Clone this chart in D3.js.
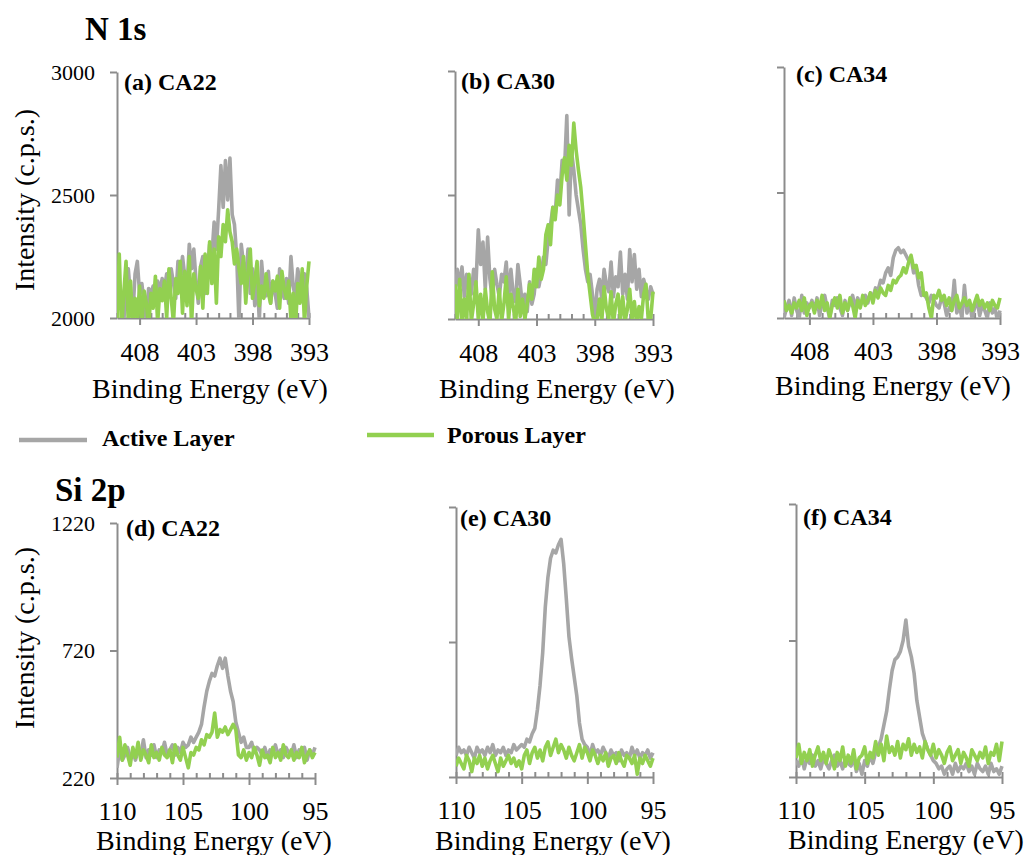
<!DOCTYPE html>
<html>
<head>
<meta charset="utf-8">
<script src="https://cdn.jsdelivr.net/npm/d3@7"></script>
<style>
  html, body { margin: 0; padding: 0; background: #fff; }
  svg { display: block; }
  text { font-family: "Liberation Serif", "Times New Roman", Times, serif; fill: #000; }
</style>
</head>
<body>
<svg id="chart" width="1025" height="855"></svg>
<script>
// ---- Energy grids (eV) ----
const n1sStart = 410, n1sStep = 0.2, n1sCount = 86;   // 410 -> 393 eV
const si2pStart = 110, si2pStep = 0.2, si2pCount = 76; // 110 -> 95 eV

// ---- Tick labels ----
const n1sXTicks = [408, 403, 398, 393];
const si2pXTicks = [110, 105, 100, 95];
const n1sYTicks = [2000, 2500, 3000];
const si2pYTicks = [220, 720, 1220];

// ---- Series names ----
const seriesNames = ["Active Layer", "Porous Layer"];
const panelLabels = ["(a) CA22", "(b) CA30", "(c) CA34", "(d) CA22", "(e) CA30", "(f) CA34"];

// ---- N 1s spectra (c.p.s.) ----
const n1sCA22Active = [
  2180, 2120, 2050, 1980, 2150, 2200, 2090, 2010, 2180, 2230,
  2100, 2140, 2060, 1990, 2120, 2100, 2130, 2080, 2150, 2110,
  2160, 2120, 2180, 2100, 2200, 2140, 2080, 2230, 2150, 2250,
  2170, 2120, 2300, 2200, 2280, 2150, 2060, 2210, 2250, 2100,
  2180, 2300, 2250, 2390, 2280, 2440, 2620, 2450, 2640, 2480,
  2650, 2420, 2380, 2250, 1980, 2300, 2220, 2160, 2280, 2100,
  2200, 2050, 2180, 1990, 2230, 2120, 2090, 2190, 2060, 2150,
  2100, 2040, 2200, 2120, 2080, 2160, 2060, 2250, 2130, 2080,
  2200, 2150, 2090, 2180, 2120, 2000
];
const n1sCA22Porous = [
  2000, 2260, 1950, 2100, 2230, 1980, 2150, 1960, 2080, 2000,
  2130, 1970, 2110, 2060, 1960, 2100, 2040, 2170, 1980, 2120,
  2070, 2150, 2000, 2200, 2080, 1980, 2160, 2100, 2230, 2020,
  2190, 2050, 2250, 1970, 2180, 2120, 2080, 2210, 2040, 2260,
  2100, 2310, 2140, 2280, 2060, 2330, 2250, 2380, 2310, 2440,
  2350, 2310, 2220, 2280, 2200, 2140, 2250, 2060, 2190, 2280,
  2080, 2150, 2230, 2050, 2130, 2080, 2180, 2100, 2060, 2150,
  2110, 2170, 2040, 2190, 2120, 2080, 2150, 1990, 2100, 1960,
  2140, 2060, 2200, 1980, 2130, 2230
];
const n1sCA30Active = [
  2100, 2200, 2130, 2210, 2090, 2180, 2150, 2100, 2200, 2140,
  2360, 2220, 2310, 2120, 2330, 2160, 2080, 2200, 2140, 2090,
  2180, 2150, 2230, 2080, 2200, 2100, 2070, 2220, 2140, 2050,
  2100, 2030, 2150, 2060, 2100, 2200, 2130, 2180, 2250, 2220,
  2320, 2380, 2450, 2420, 2560, 2500, 2640, 2600, 2820, 2420,
  2680, 2600, 2500, 2440, 2380, 2280, 2200, 2150, 2180, 2100,
  2000, 2120, 2160, 2080, 2200, 2140, 2110, 2230, 2090, 2170,
  2130, 2270, 2100, 2180, 2080, 2280, 2150, 2260, 2120, 2200,
  2090, 2160, 2120, 2080, 2130, 2100
];
const n1sCA30Porous = [
  2140, 2000, 2160, 1980, 2080, 2000, 2180, 1990, 2060, 2150,
  2000, 2100, 1990, 2120, 2030, 1980, 2190, 2040, 2000, 2120,
  1990, 2060, 2170, 2000, 2100, 2050, 1980, 2120, 2010, 2080,
  2000, 2060, 2140, 2080, 2200, 2130, 2250, 2160, 2200, 2340,
  2380, 2300, 2450, 2400, 2500, 2460, 2580, 2650, 2560, 2700,
  2620, 2790, 2680, 2600, 2530, 2420, 2300, 2180, 2100, 2020,
  1980, 2000, 2080, 1990, 2130, 2040, 2000, 2110, 1980, 2060,
  2100, 2000, 2090, 1990, 2040, 2120, 2000, 2070, 1980, 2050,
  2000, 2100, 2140, 1990, 2000, 2110
];
const n1sCA34Active = [
  2000, 2040, 2070, 2010, 2080, 2030, 2000, 2090, 2020, 2060,
  2040, 2070, 2030, 2080, 2010, 2060, 2090, 2040, 2000, 2070,
  2050, 2080, 2040, 2010, 2070, 2030, 2060, 2090, 2040, 2080,
  2050, 2070, 2090, 2060, 2100, 2080, 2120, 2110, 2150, 2140,
  2180, 2200, 2170, 2240, 2270, 2280, 2260, 2270, 2250, 2230,
  2240, 2180, 2200, 2130, 2090, 2100, 2080, 2060, 2090, 2070,
  2050, 2040, 2080, 2060, 2010, 2040, 2030, 2150, 2020, 2050,
  2000, 2130, 2020, 2060, 2000, 2040, 2070, 2010, 2050, 2030,
  2000, 2060, 2020, 2040, 1990, 2030
];
const n1sCA34Porous = [
  2070, 2030, 2050, 2020, 2060, 2040, 2070, 2030, 2080, 2010,
  2050, 2060, 2020, 2070, 2040, 2090, 2030, 2060, 2000, 2050,
  2080, 2040, 2090, 2020, 2060, 2030, 2080, 2050, 2000, 2070,
  2040, 2090, 2050, 2070, 2100, 2060, 2110, 2080, 2120, 2100,
  2090, 2130, 2110, 2150, 2140, 2160, 2170, 2200, 2180, 2220,
  2250, 2200, 2210, 2160, 2180, 2090, 2100, 2040, 2000, 2090,
  2080, 2110, 2070, 2090, 2050, 2080, 2030, 2070, 2090, 2040,
  2060, 2080, 2050, 2070, 2030, 2060, 2090, 2050, 2070, 2040,
  2060, 2030, 2070, 2050, 2040, 2080
];

// ---- Si 2p spectra (c.p.s.) ----
const si2pCA22Active = [
  260, 330, 290, 310, 340, 300, 320, 290, 330, 310,
  370, 300, 330, 310, 350, 300, 330, 320, 360, 310,
  330, 350, 310, 340, 320, 360, 340, 350, 380, 360,
  380, 400, 430, 500, 560, 600, 630, 620, 660, 690,
  650, 690, 620, 560, 520, 440, 400, 360, 380, 340,
  340, 360, 320, 340, 330, 310, 340, 300, 330, 320,
  350, 310, 330, 300, 340, 320, 310, 350, 300, 330,
  320, 340, 290, 330, 310, 340
];
const si2pCA22Porous = [
  300, 380, 290, 350, 310, 270, 340, 300, 360, 290,
  330, 310, 280, 350, 300, 320, 290, 340, 310, 300,
  330, 280, 350, 310, 290, 340, 300, 260, 320, 310,
  340, 330, 370, 350, 390, 380, 400, 475, 380, 410,
  400, 420, 390, 410, 430, 410, 310, 300, 330, 290,
  320, 300, 340, 310, 270, 330, 300, 310, 280, 340,
  300, 320, 290, 350, 310, 300, 330, 290, 320, 300,
  340, 280, 310, 330, 300, 320
];
const si2pCA30Active = [
  300, 330, 310, 320, 300, 330, 310, 290, 330, 310,
  320, 300, 330, 310, 340, 300, 320, 310, 330, 300,
  320, 310, 340, 320, 330, 340, 330, 360, 350, 380,
  400, 470, 560, 680, 850, 960, 1030, 1060, 1050, 1080,
  1100, 1010, 880, 740, 660, 590, 520, 420, 360, 340,
  330, 300, 340, 310, 320, 300, 330, 310, 290, 320,
  300, 310, 280, 320, 300, 310, 290, 330, 300, 320,
  290, 310, 300, 320, 290, 310
];
const si2pCA30Porous = [
  260, 290, 270, 250, 300, 280, 240, 290, 270, 300,
  260, 290, 250, 280, 300, 270, 240, 290, 260, 280,
  300, 270, 290, 260, 280, 250, 300, 320, 270, 310,
  330, 290, 320, 280, 330, 350, 300, 330, 360, 310,
  340, 320, 290, 330, 300, 280, 310, 340, 290, 330,
  310, 280, 320, 300, 270, 300, 280, 310, 260, 290,
  300, 270, 310, 280, 260, 300, 290, 270, 300, 230,
  290, 270, 300, 280, 260, 290
];
const si2pCA34Active = [
  280, 260, 300, 250, 290, 270, 300, 260, 280, 250,
  290, 270, 250, 280, 300, 260, 280, 250, 290, 270,
  260, 290, 240, 270, 230, 280, 260, 300, 270, 310,
  330, 360, 410, 460, 540, 610, 650, 660, 680, 720,
  795, 700, 660, 600, 500, 440, 380, 350, 320, 300,
  280, 270, 250, 260, 230, 250, 260, 230, 270, 240,
  260, 250, 270, 240, 260, 230, 270, 250, 240, 260,
  230, 270, 240, 250, 230, 260
];
const si2pCA34Porous = [
  290, 340, 270, 310, 280, 320, 260, 300, 330, 280,
  310, 270, 320, 290, 250, 310, 280, 330, 260, 300,
  270, 320, 250, 290, 300, 330, 270, 310, 290, 350,
  300, 340, 280, 370, 310, 330, 300, 350, 290, 340,
  320, 360, 300, 340, 310, 330, 290, 350, 320, 300,
  340, 290, 320, 300, 270, 310, 330, 280, 300, 320,
  270, 310, 290, 260, 320, 300, 280, 310, 290, 330,
  270, 310, 300, 340, 280, 350
];

// ---- Styling ----
const activeColor = "#a6a6a6";
const porousColor = "#92d050";
const axisColor = "#8c8c8c";
const serif = "Liberation Serif, Times New Roman, serif";

const svg = d3.select("#chart");
svg.append("rect").attr("width", 1025).attr("height", 855).attr("fill", "#fff");

const n1sEnergy = d3.range(n1sCount).map(i => +(n1sStart - i * n1sStep).toFixed(1));
const si2pEnergy = d3.range(si2pCount).map(i => +(si2pStart - i * si2pStep).toFixed(1));

// Panel geometry and content
const panels = [
  { label: panelLabels[0], energy: n1sEnergy, xDom: [410, 393], yDom: [2000, 3000], xTicks: n1sXTicks, yTicks: n1sYTicks,
    active: n1sCA22Active, porous: n1sCA22Porous, left: 117, right: 309, top: 72, bottom: 318,
    yLabels: true, lx: 124, ly: 90, tx: 210, ty: 398, pad: 18 },
  { label: panelLabels[1], energy: n1sEnergy, xDom: [410, 393], yDom: [2000, 3000], xTicks: n1sXTicks, yTicks: n1sYTicks,
    active: n1sCA30Active, porous: n1sCA30Porous, left: 455, right: 653, top: 71, bottom: 319,
    yLabels: false, lx: 461, ly: 89, tx: 557, ty: 398, pad: 18 },
  { label: panelLabels[2], energy: n1sEnergy, xDom: [410, 393], yDom: [2000, 3000], xTicks: n1sXTicks, yTicks: n1sYTicks,
    active: n1sCA34Active, porous: n1sCA34Porous, left: 784, right: 1000, top: 67, bottom: 318,
    yLabels: false, lx: 796, ly: 82, tx: 893, ty: 395, pad: 17 },
  { label: panelLabels[3], energy: si2pEnergy, xDom: [110, 95], yDom: [220, 1220], xTicks: si2pXTicks, yTicks: si2pYTicks,
    active: si2pCA22Active, porous: si2pCA22Porous, left: 117, right: 315, top: 523, bottom: 778,
    yLabels: true, lx: 126, ly: 536, tx: 214, ty: 850, pad: 17 },
  { label: panelLabels[4], energy: si2pEnergy, xDom: [110, 95], yDom: [220, 1220], xTicks: si2pXTicks, yTicks: si2pYTicks,
    active: si2pCA30Active, porous: si2pCA30Porous, left: 456, right: 653, top: 507, bottom: 777,
    yLabels: false, lx: 460, ly: 526, tx: 553, ty: 850, pad: 17 },
  { label: panelLabels[5], energy: si2pEnergy, xDom: [110, 95], yDom: [220, 1220], xTicks: si2pXTicks, yTicks: si2pYTicks,
    active: si2pCA34Active, porous: si2pCA34Porous, left: 796, right: 1002, top: 504, bottom: 777,
    yLabels: false, lx: 803, ly: 525, tx: 906, ty: 849, pad: 17 }
];

const defs = svg.append("defs");

panels.forEach((p, idx) => {
  const x = d3.scaleLinear().domain(p.xDom).range([p.left, p.right]);
  const y = d3.scaleLinear().domain(p.yDom).range([p.bottom, p.top]);
  const g = svg.append("g");

  // clip region for the spectra
  const clipId = "clip" + idx;
  defs.append("clipPath").attr("id", clipId)
    .append("rect")
    .attr("x", p.left).attr("y", p.top - 2)
    .attr("width", p.right - p.left + 3).attr("height", p.bottom - p.top + 2);

  // minor ticks every 1 eV, pointing up
  const lo = Math.min(...p.xDom), hi = Math.max(...p.xDom);
  const minor = g.append("g").attr("transform", `translate(0,${p.bottom})`)
    .call(d3.axisBottom(x).tickValues(d3.range(lo, hi + 0.5, 1)).tickSize(-5).tickSizeOuter(0).tickFormat(""));
  minor.select(".domain").remove();

  // major x axis
  const xa = g.append("g").attr("transform", `translate(0,${p.bottom})`)
    .call(d3.axisBottom(x).tickValues(p.xTicks).tickSize(7).tickSizeOuter(0).tickPadding(p.pad));
  xa.selectAll("text").attr("font-size", 26).attr("font-family", serif);

  // y axis
  const ya = g.append("g").attr("transform", `translate(${p.left},0)`)
    .call(d3.axisLeft(y).tickValues(p.yTicks).tickSize(7).tickSizeOuter(0).tickPadding(15)
      .tickFormat(p.yLabels ? d3.format("d") : () => ""));
  ya.selectAll("text").attr("font-size", 22).attr("font-family", serif);

  g.selectAll(".domain, .tick line").attr("stroke", axisColor).attr("stroke-width", 2);

  // spectra
  const line = d3.line().x((d, i) => x(p.energy[i])).y(d => y(d));
  const plot = g.append("g").attr("clip-path", `url(#${clipId})`);
  plot.append("path").datum(p.active).attr("d", line)
    .attr("fill", "none").attr("stroke", activeColor).attr("stroke-width", 3.6)
    .attr("stroke-linejoin", "round");
  plot.append("path").datum(p.porous).attr("d", line)
    .attr("fill", "none").attr("stroke", porousColor).attr("stroke-width", 3.6)
    .attr("stroke-linejoin", "round");

  // panel label
  g.append("text").attr("x", p.lx).attr("y", p.ly)
    .attr("font-size", 24).attr("font-weight", "bold").text(p.label);

  // x axis title
  g.append("text").attr("x", p.tx).attr("y", p.ty).attr("text-anchor", "middle")
    .attr("font-size", 28).text("Binding Energy (eV)");
});

// y axis titles
[200, 638].forEach(cy => {
  svg.append("text")
    .attr("transform", `translate(34,${cy}) rotate(-90)`)
    .attr("text-anchor", "middle").attr("font-size", 28)
    .text("Intensity (c.p.s.)");
});

// section titles
svg.append("text").attr("x", 85).attr("y", 40).attr("font-size", 33).attr("font-weight", "bold").text("N 1s");
svg.append("text").attr("x", 55).attr("y", 501).attr("font-size", 33).attr("font-weight", "bold").text("Si 2p");

// legend
const legend = svg.append("g");
const legendItems = [
  { name: seriesNames[0], color: activeColor, x1: 19, x2: 87, ly: 440, tx: 102, ty: 446 },
  { name: seriesNames[1], color: porousColor, x1: 367, x2: 434, ly: 435, tx: 447, ty: 443 }
];
legendItems.forEach(it => {
  legend.append("line").attr("x1", it.x1).attr("x2", it.x2).attr("y1", it.ly).attr("y2", it.ly)
    .attr("stroke", it.color).attr("stroke-width", 4.5);
  legend.append("text").attr("x", it.tx).attr("y", it.ty)
    .attr("font-size", 24).attr("font-weight", "bold").text(it.name);
});
</script>
</body>
</html>
